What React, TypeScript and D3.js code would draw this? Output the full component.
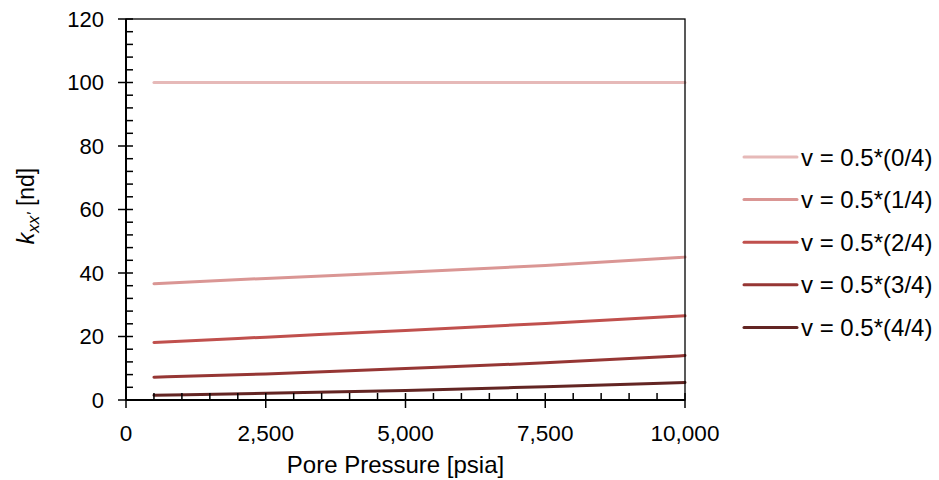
import React from "react";
import * as d3 from "d3";

// Pore pressure samples [psia]
const pressures = [500, 2500, 5000, 7500, 10000];

// k_xx' [nd] for each Poisson ratio case
const seriesLabels = [
  "v = 0.5*(0/4)",
  "v = 0.5*(1/4)",
  "v = 0.5*(2/4)",
  "v = 0.5*(3/4)",
  "v = 0.5*(4/4)",
];
const kV0 = [100, 100, 100, 100, 100];
const kV1 = [36.6, 38.3, 40.2, 42.4, 45.0];
const kV2 = [18.1, 19.8, 21.9, 24.1, 26.5];
const kV3 = [7.2, 8.2, 9.9, 11.7, 14.0];
const kV4 = [1.5, 2.1, 3.0, 4.2, 5.5];
const seriesValues = [kV0, kV1, kV2, kV3, kV4];
const seriesColors = ["#E6B9B8", "#DA9694", "#C0504D", "#963634", "#632523"];

const yTicks = [0, 20, 40, 60, 80, 100, 120];
const xTicks = [0, 2500, 5000, 7500, 10000];

const W = 939;
const H = 480;
const M = { left: 126, right: 685, top: 19, bottom: 400 };
const FONT = "'Liberation Sans', Arial, sans-serif";

export default function App() {
  const x = d3.scaleLinear().domain([0, 10000]).range([M.left, M.right]);
  const y = d3.scaleLinear().domain([0, 120]).range([M.bottom, M.top]);
  const line = d3
    .line<[number, number]>()
    .x((d) => x(d[0]))
    .y((d) => y(d[1]))
    .curve(d3.curveMonotoneX);

  const yMinor = d3.range(0, 121, 4).filter((v) => v % 20 !== 0);
  const xMinor = d3.range(0, 10001, 500).filter((v) => v % 2500 !== 0);

  const legendX = 744;
  const legendY0 = 157;
  const legendStep = 42.6;

  return (
    <svg
      width={W}
      height={H}
      style={{ position: "absolute", left: 0, top: 0, background: "#fff" }}
      fontFamily={FONT}
    >
      <rect x={0} y={0} width={W} height={H} fill="#fff" />

      {/* series */}
      {seriesValues.map((vals, i) => (
        <path
          key={i}
          d={line(pressures.map((p, j) => [p, vals[j]]) as [number, number][]) || ""}
          fill="none"
          stroke={seriesColors[i]}
          strokeWidth={3}
          strokeLinecap="round"
        />
      ))}

      {/* frame */}
      <rect
        x={M.left}
        y={M.top}
        width={M.right - M.left}
        height={M.bottom - M.top}
        fill="none"
        stroke="#000"
        strokeWidth={1.3}
      />
      <line x1={M.left} x2={M.left} y1={M.top} y2={M.bottom} stroke="#000" strokeWidth={2} />
      <line x1={M.left} x2={M.right} y1={M.bottom} y2={M.bottom} stroke="#000" strokeWidth={2} />

      {/* y axis ticks */}
      {yMinor.map((v) => (
        <line key={"ym" + v} x1={M.left} x2={M.left + 7} y1={y(v)} y2={y(v)} stroke="#000" strokeWidth={1.5} />
      ))}
      {yTicks.map((v) => (
        <g key={"y" + v}>
          <line x1={M.left - 8} x2={M.left + 7} y1={y(v)} y2={y(v)} stroke="#000" strokeWidth={1.5} />
          <text x={104} y={y(v)} dy="0.36em" textAnchor="end" fontSize={22} fill="#000">
            {v}
          </text>
        </g>
      ))}

      {/* x axis ticks */}
      {xMinor.map((v) => (
        <line key={"xm" + v} x1={x(v)} x2={x(v)} y1={M.bottom} y2={M.bottom - 7} stroke="#000" strokeWidth={1.5} />
      ))}
      {xTicks.map((v) => (
        <g key={"x" + v}>
          <line x1={x(v)} x2={x(v)} y1={M.bottom - 7} y2={M.bottom + 8} stroke="#000" strokeWidth={1.5} />
          <text x={x(v)} y={441} textAnchor="middle" fontSize={22.5} fill="#000">
            {d3.format(",")(v)}
          </text>
        </g>
      ))}

      {/* axis titles */}
      <text x={(M.left + M.right) / 2 - 10} y={473} textAnchor="middle" fontSize={24} fill="#000">
        Pore Pressure [psia]
      </text>
      <text
        transform={`translate(34, ${206}) rotate(-90)`}
        textAnchor="middle"
        fontSize={23}
        fill="#000"
      >
        <tspan fontStyle="italic">k</tspan>
        <tspan fontStyle="italic" fontSize={17} dy={5}>xx'</tspan>
        <tspan dy={-5}>{"  [nd]"}</tspan>
      </text>

      {/* legend */}
      {seriesLabels.map((label, i) => {
        const ly = legendY0 + i * legendStep;
        return (
          <g key={"lg" + i}>
            <line
              x1={legendX}
              x2={legendX + 53}
              y1={ly}
              y2={ly}
              stroke={seriesColors[i]}
              strokeWidth={3}
              strokeLinecap="round"
            />
            <text x={801} y={ly} dy="0.36em" fontSize={24} fill="#000">
              {label}
            </text>
          </g>
        );
      })}
    </svg>
  );
}
